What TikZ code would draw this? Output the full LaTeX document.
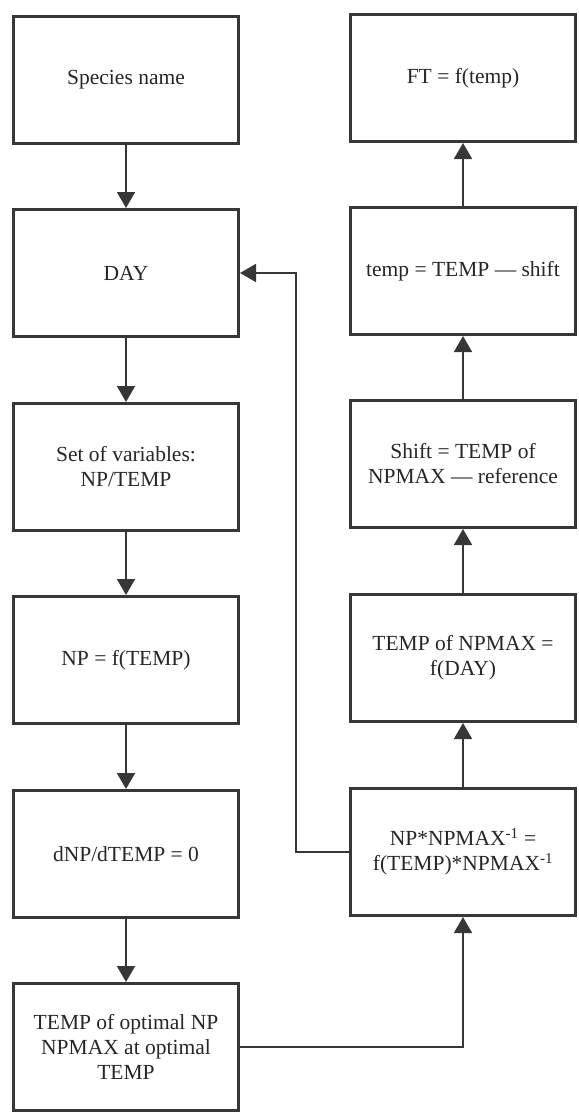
\documentclass[tikz,border=0pt]{standalone}
\usepackage{fontspec}
\setmainfont{Liberation Serif}
\usepackage{tikz}
\usetikzlibrary{positioning,arrows.meta}
\definecolor{ink}{RGB}{55,55,55}
\tikzstyle{box}=[draw=ink, line width=3pt, minimum width=225pt, minimum height=127pt, align=center, text=black!85, font=\fontsize{21.5}{25}\selectfont]
\tikzstyle{line}=[-{Triangle[width=18pt,length=16pt]}, draw=ink, line width=1.8pt]

\begin{document}
\begin{tikzpicture}[x=1pt,y=-1pt]
        \useasboundingbox (0,0) rectangle (578,1113);

        \node[box] (species) at (126,80) {Species name};
        \node[box] (day) at (126,273) {DAY};
        \node[box] (vars) at (126,467) {Set of variables:\\NP/TEMP};
        \node[box] (npf) at (126,660) {NP = f(TEMP)};
        \node[box] (dnp) at (126,854) {dNP/dTEMP = 0};
        \node[box] (topt) at (126,1047) {TEMP of optimal NP\\NPMAX at optimal\\TEMP};

        \node[box] (ft) at (463,78) {FT = f(temp)};
        \node[box] (temp) at (463,271) {temp = TEMP --- shift};
        \node[box] (shift) at (463,464) {Shift = TEMP of\\NPMAX --- reference};
        \node[box] (tmax) at (463,658) {TEMP of NPMAX =\\f(DAY)};
        \node[box] (ratio) at (463,852) {NP*NPMAX\textsuperscript{-1} =\\f(TEMP)*NPMAX\textsuperscript{-1}};

        \coordinate (turn) at (296,852);

        \draw[line] (species) -- (day);
        \draw[line] (day) -- (vars);
        \draw[line] (vars) -- (npf);
        \draw[line] (npf) -- (dnp);
        \draw[line] (dnp) -- (topt);
        \draw[line] (topt.east) -| (ratio.south);
        \draw[line] (ratio) -- (tmax);
        \draw[line] (tmax) -- (shift);
        \draw[line] (shift) -- (temp);
        \draw[line] (temp) -- (ft);
        \draw[line] (ratio.west) -- (turn) |- (day.east);
    \end{tikzpicture}
\end{document}
